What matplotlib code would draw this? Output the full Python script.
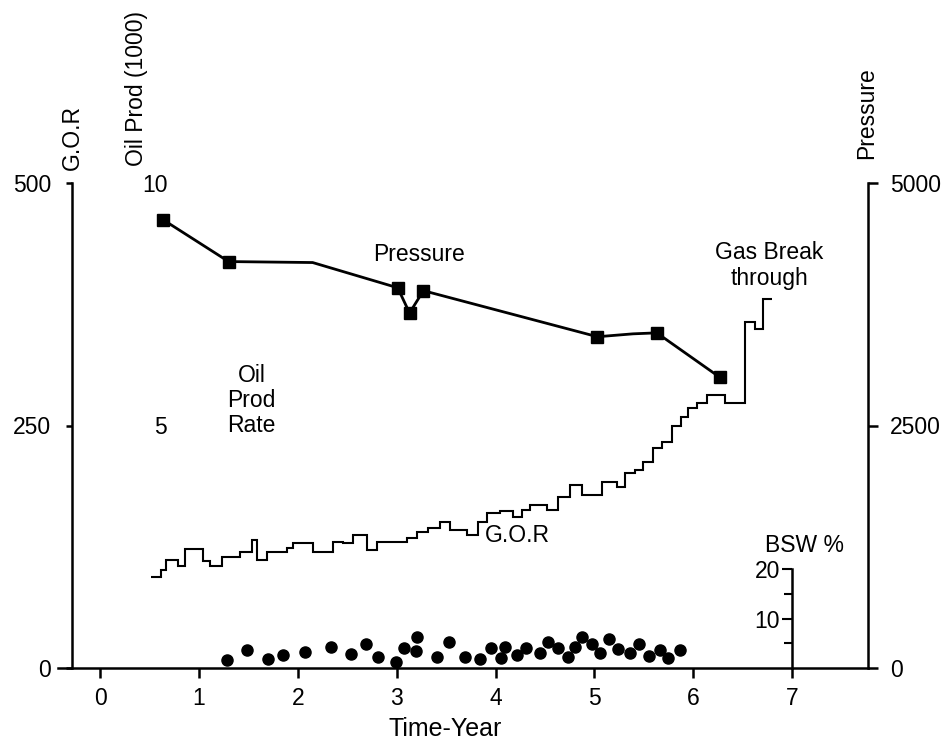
import matplotlib
matplotlib.use("Agg")
import matplotlib.pyplot as plt

plt.rcParams['font.family'] = ['Liberation Sans', 'DejaVu Sans']
FS = 16.5

# ---- data ----
years = [0, 1, 2, 3, 4, 5, 6, 7]

gor_edges = [0.52, 0.62, 0.67, 0.79, 0.86, 1.04, 1.11, 1.23, 1.42, 1.54, 1.59, 1.69, 1.89,
             1.95, 2.15, 2.36, 2.46, 2.56, 2.70, 2.80, 3.10, 3.21, 3.32, 3.44, 3.54, 3.71,
             3.82, 3.91, 4.04, 4.18, 4.27, 4.35, 4.52, 4.63, 4.75, 4.87, 5.08, 5.23, 5.31,
             5.41, 5.49, 5.59, 5.68, 5.78, 5.87, 5.95, 6.04, 6.14, 6.32, 6.52, 6.62, 6.70, 6.80]
gor_values = [94, 101, 111, 105, 123, 110, 105, 114, 120, 132, 111, 120, 124, 129, 120, 130,
              129, 137, 122, 130, 134, 140, 144, 151, 142, 137, 151, 160, 162, 156, 163, 168,
              163, 176, 189, 178, 192, 187, 201, 204, 212, 227, 233, 250, 259, 268, 273, 281,
              273, 357, 349, 380]

p_years = [0.64, 1.30, 2.15, 3.01, 3.13, 3.27, 5.03, 5.39, 5.63, 6.27]
p_values = [4620, 4190, 4180, 3920, 3660, 3890, 3415, 3445, 3455, 2995]
p_marked = [0, 1, 3, 4, 5, 6, 8, 9]

bsw_years = [1.28, 1.49, 1.70, 1.85, 2.07, 2.34, 2.54, 2.69, 2.81, 2.99, 3.07, 3.20, 3.21,
             3.41, 3.53, 3.69, 3.84, 3.95, 4.05, 4.10, 4.22, 4.31, 4.45, 4.53, 4.63, 4.73,
             4.80, 4.87, 4.98, 5.06, 5.15, 5.24, 5.36, 5.45, 5.55, 5.66, 5.74, 5.86]
bsw_values = [1.7, 3.6, 1.9, 2.7, 3.2, 4.3, 2.9, 4.8, 2.2, 1.3, 4.1, 3.4, 6.2, 2.2, 5.2, 2.2,
              1.9, 4.0, 2.0, 4.3, 2.7, 4.1, 3.1, 5.2, 4.0, 2.2, 4.3, 6.2, 4.8, 3.1, 5.9, 3.8,
              3.1, 4.8, 2.4, 3.6, 2.0, 3.6]

gor_ticks = [0, 250, 500]
oil_ticks = [5, 10]
p_ticks = [0, 2500, 5000]
bsw_major = [10, 20]
bsw_minor = [5, 15]

# ---- figure ----
W, H = 951, 747
fig = plt.figure(figsize=(W / 100, H / 100), dpi=100)
ax = fig.add_axes([58 / W, 79 / H, 810 / W, 485 / H])
ax.set_xlim(-0.425, 7.766)
ax.set_ylim(0, 500)
LW = 1.8

for s in ['top', 'right']:
    ax.spines[s].set_visible(False)
ax.spines['left'].set_position(('data', -0.283))
ax.spines['left'].set_linewidth(LW)
ax.spines['bottom'].set_linewidth(LW)
ax.set_xticks(years)
ax.set_yticks(gor_ticks)
ax.tick_params(axis='x', direction='out', length=7, width=LW, pad=7, labelsize=FS)
ax.tick_params(axis='y', direction='out', length=4, width=LW, pad=11, labelsize=FS)
ax.set_xlabel('Time-Year', fontsize=FS + 1.5)
ax.xaxis.set_label_coords(0.478, -0.1)

# GOR step line
ax.stairs(gor_values, gor_edges, baseline=None, color='black', linewidth=1.5)

# Pressure axis
axp = ax.twinx()
axp.set_ylim(0, 5000)
for s in ['top', 'left', 'bottom']:
    axp.spines[s].set_visible(False)
axp.spines['right'].set_linewidth(LW)
axp.set_yticks(p_ticks)
axp.tick_params(axis='y', direction='out', length=7, width=LW, pad=9, labelsize=FS)
axp.plot(p_years, p_values, color='black', linewidth=2.0, marker='s', markersize=9,
         markevery=p_marked)

# Oil production labels (no visible spine)
axo = ax.twinx()
axo.set_ylim(0, 10)
for s in axo.spines.values():
    s.set_visible(False)
axo.spines['left'].set_position(('data', 0.68))
axo.yaxis.set_ticks_position('left')
axo.set_yticks(oil_ticks)
axo.tick_params(axis='y', left=False, right=False, labelleft=True, labelright=False,
                length=0, pad=0, labelsize=FS)

# BSW inset axis
axb = ax.twinx()
axb.set_ylim(0, 20 * 485 / 99)
for s in ['top', 'right', 'bottom']:
    axb.spines[s].set_visible(False)
axb.spines['left'].set_position(('data', 7.0))
axb.spines['left'].set_bounds(0, 20)
axb.spines['left'].set_linewidth(LW)
axb.yaxis.set_ticks_position('left')
axb.set_yticks(bsw_major)
axb.set_yticks(bsw_minor, minor=True)
axb.tick_params(axis='y', which='major', direction='out', length=7, width=1.5, pad=2,
                labelsize=FS)
axb.tick_params(axis='y', which='minor', direction='out', length=6, width=1.5)
axb.plot(bsw_years, bsw_values, linestyle='none', marker='o', markersize=8, color='black')

# ---- annotations ----
ax.text(3.23, 426, 'Pressure', ha='center', va='center', fontsize=FS)
ax.text(1.53, 276, 'Oil\nProd\nRate', ha='center', va='center', fontsize=FS, linespacing=1.1)
ax.text(4.22, 137, 'G.O.R', ha='center', va='center', fontsize=FS)
ax.text(6.77, 415, 'Gas Break\nthrough', ha='center', va='center', fontsize=FS,
        linespacing=1.15)
ax.text(7.12, 126, 'BSW %', ha='center', va='center', fontsize=FS)

fig.text(72 / W, 1 - 138 / H, 'G.O.R', rotation=90, ha='center', va='center', fontsize=FS)
fig.text(137 / W, 1 - 89 / H, 'Oil Prod (1000)', rotation=90, ha='center', va='center',
         fontsize=FS)
fig.text(867 / W, 1 - 113 / H, 'Pressure', rotation=90, ha='center', va='center', fontsize=FS)

fig.savefig('out.png', dpi=100, facecolor='white')
